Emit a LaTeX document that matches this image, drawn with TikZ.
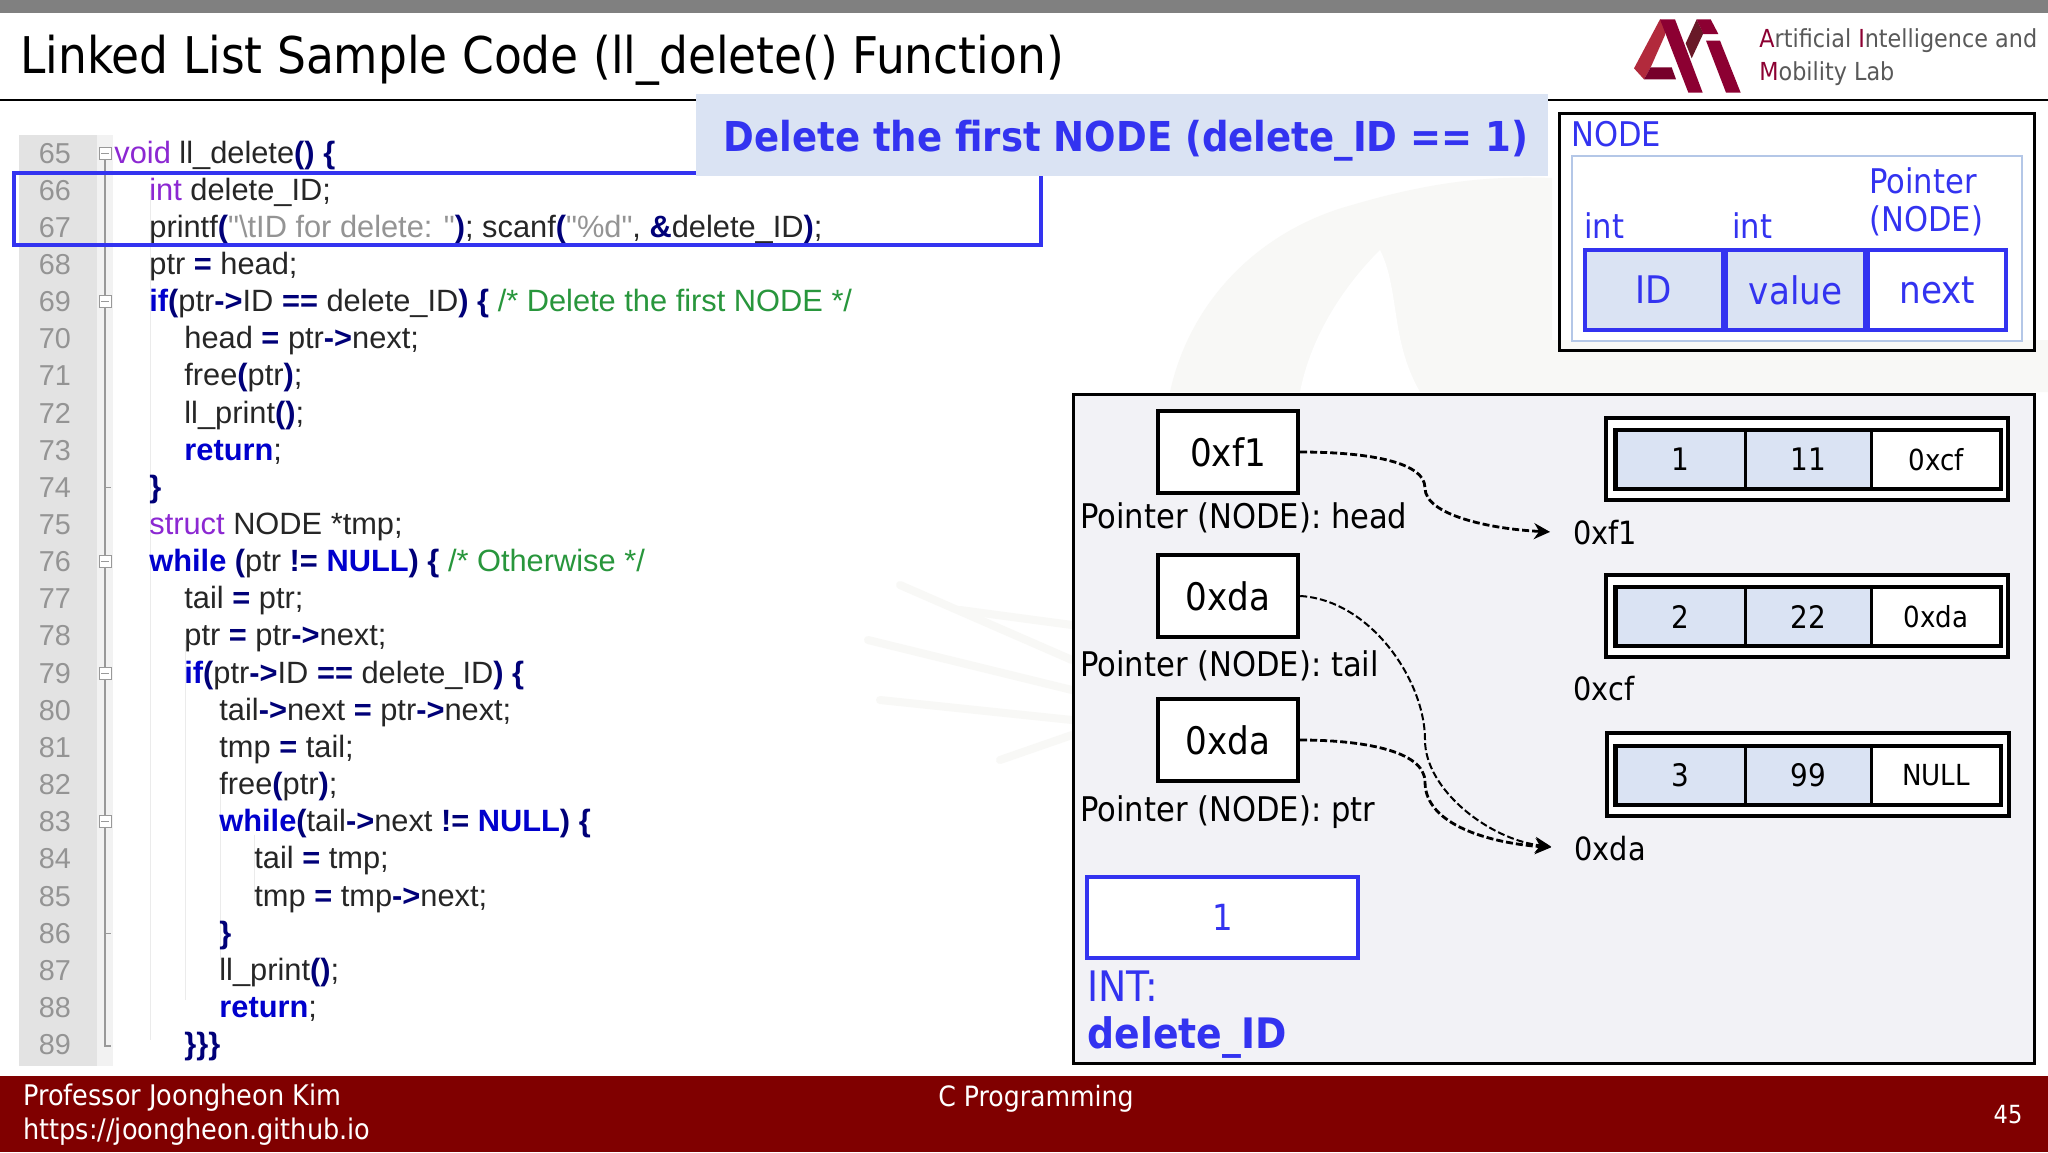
\documentclass[tikz,border=0pt]{standalone}
\usepackage{fontspec}
\setmainfont{DejaVu Sans Condensed}
\newfontfamily\codefont{Liberation Sans}
\usetikzlibrary{arrows.meta, positioning}

\definecolor{slideblue}{RGB}{51,51,240}
\definecolor{paleblue}{RGB}{218,227,243}
\definecolor{frameblue}{RGB}{180,199,231}
\definecolor{darkfoot}{RGB}{128,0,0}
\definecolor{panelgray}{RGB}{242,242,246}
\definecolor{kwblue}{RGB}{0,0,205}
\definecolor{navyop}{RGB}{0,0,120}
\definecolor{typepurple}{RGB}{140,40,210}
\definecolor{cmtgreen}{RGB}{40,150,60}
\definecolor{logored}{RGB}{140,0,50}
\definecolor{logolight}{RGB}{178,42,60}
\definecolor{logodark}{RGB}{105,25,40}
\definecolor{markgray}{RGB}{248,248,246}

\newcommand{\kwd}[1]{\textcolor{kwblue}{\bfseries #1}}
\newcommand{\typ}[1]{\textcolor{typepurple}{#1}}
\newcommand{\cmt}[1]{\textcolor{cmtgreen}{#1}}
\newcommand{\strg}[1]{\textcolor{black!42}{#1}}
\newcommand{\opr}[1]{\textcolor{navyop}{\bfseries #1}}

\tikzset{
  codeline/.style={anchor=base west, inner sep=0, font=\codefont\fontsize{15.4}{17}\selectfont, text=black!85},
  lineno/.style={anchor=base, inner sep=0, font=\codefont\fontsize{14.4}{16}\selectfont, text=black!42},
  foldbox/.style={draw=black!40, fill=white, line width=0.5pt, inner sep=0, minimum width=6pt, minimum height=6pt},
  plaintext/.style={anchor=west, inner sep=0, font=\fontsize{17}{20}\selectfont},
  bluetext/.style={plaintext, text=slideblue},
  ptrbox/.style={draw=black, fill=white, line width=2.2pt, minimum width=70pt, minimum height=41pt, inner sep=0, font=\fontsize{19}{24}\selectfont},
  cellblue/.style={fill=paleblue, inner sep=0, minimum height=29pt, font=\fontsize{15.5}{18}\selectfont},
  cellwhite/.style={fill=white, inner sep=0, minimum height=29pt, font=\fontsize{15.5}{18}\selectfont},
  headcell/.style={draw=slideblue, line width=1.8pt, inner sep=0, minimum width=69pt, minimum height=40pt, text=slideblue, font=\fontsize{19}{22}\selectfont},
  linkarrow/.style={-{Stealth[length=8pt,width=8pt]}, line width=1.4pt, dash pattern=on 3.5pt off 1.5pt, shorten >=11.5pt},
  footertext/.style={anchor=west, inner sep=0, text=white, font=\fontsize{14.2}{16}\selectfont},
}

\begin{document}
\begin{tikzpicture}[x=0.5pt,y=-0.5pt]
\useasboundingbox (0,0) rectangle (2048,1152);
\fill[white] (0,0) rectangle (2048,1152);

% faint watermark
\fill[markgray] (1170,392) .. controls (1190,300) and (1260,230) .. (1352,205) .. controls (1420,185) and (1480,175) .. (1552,178) -- (1552,340) -- (2048,340) -- (2048,392) -- cycle;
\fill[white] (1300,392) .. controls (1310,340) and (1340,290) .. (1380,250) .. controls (1400,290) and (1390,340) .. (1420,392) -- cycle;
\foreach \x/\y/\xx/\yy in {868/640/1072/690, 900/585/1072/660, 880/700/1072/720, 960/610/1072/625, 1000/760/1072/735}
  \draw[markgray, line width=4pt, line cap=round] (\x,\y) -- (\xx,\yy);

% top of slide
\fill[black!50] (0,0) rectangle (2048,13);
\draw[black, line width=1pt] (0,100) -- (2048,100);
\node[anchor=west, inner sep=0, font=\fontsize{25.3}{30}\selectfont] (title) at (20,60) {Linked List Sample Code (ll\_delete() Function)};

% logo
\begin{scope}[shift={(1620,10)},scale=1/3]
\fill[logolight] (120,28) -- (42,175) -- (72,208) -- (92,172) -- (135,75) -- (140,45) -- cycle;
\fill[logored!85!black] (72,208) -- (168,208) -- (155,172) -- (92,172) -- cycle;
\fill[logodark] (230,28) -- (197,100) -- (215,145) -- (250,70) -- cycle;
\fill[logored] (120,28) -- (165,28) -- (248,248) -- (205,248) -- cycle;
\fill[logored] (230,28) -- (272,28) -- (295,72) -- (250,72) -- cycle;
\fill[logored] (258,92) -- (300,92) -- (362,248) -- (318,248) -- cycle;
\end{scope}
\node[anchor=west, inner sep=0, text=black!65, font=\fontsize{12.4}{16}\selectfont] (lablineone) at (1759,41) {\textcolor{logored}{A}rtificial \textcolor{logored}{I}ntelligence and};
\node[anchor=west, inner sep=0, text=black!65, font=\fontsize{12.4}{16}\selectfont] (lablinetwo) at (1759,74) {\textcolor{logored}{M}obility Lab};

% code gutter
\fill[black!11] (19,135) rectangle (97,1066);
\fill[black!5] (97,135) rectangle (113,1066);
\draw[black!40, line width=0.6pt] (105,160) -- (105,1046) -- (111,1046);
\foreach \x/\ya/\yb in {150/190/1040, 185/640/1000, 220/780/960, 254/835/900}
  \draw[black!8, line width=0.5pt] (\x,\ya) -- (\x,\yb);
\foreach \n in {65,...,89} {
  \pgfmathsetmacro{\ybase}{163+37.15*(\n-65)}
  \node[lineno] (num\n) at (55,\ybase) {\n};
}
\foreach \n in {65,69,76,79,83} {
  \pgfmathsetmacro{\yfold}{153+37.15*(\n-65)}
  \node[foldbox] (fold\n) at (105,\yfold) {};
  \draw[black!40, line width=0.5pt] (101,\yfold) -- (109,\yfold);
}
\foreach \n in {74,86} {
  \pgfmathsetmacro{\yfold}{153+37.15*(\n-65)}
  \draw[black!40, line width=0.6pt] (105,\yfold) -- (111,\yfold);
}

% code
\foreach \n/\x/\txt in {
  65/114/{\typ{void} ll\_delete\opr{()} \opr{\{}},
  66/149/{\typ{int} delete\_ID;},
  67/149/{printf\opr{(}\strg{"\textbackslash tID for delete: "}\opr{)}; scanf\opr{(}\strg{"\%d"}, \opr{\&}delete\_ID\opr{)};},
  68/149/{ptr \opr{=} head;},
  69/149/{\kwd{if}\opr{(}ptr\opr{->}ID \opr{==} delete\_ID\opr{)} \opr{\{} \cmt{/* Delete the first NODE */}},
  70/184/{head \opr{=} ptr\opr{->}next;},
  71/184/{free\opr{(}ptr\opr{)};},
  72/184/{ll\_print\opr{()};},
  73/184/{\kwd{return};},
  74/149/{\opr{\}}},
  75/149/{\typ{struct} NODE *tmp;},
  76/149/{\kwd{while} \opr{(}ptr \opr{!=} \kwd{NULL}\opr{)} \opr{\{} \cmt{/* Otherwise */}},
  77/184/{tail \opr{=} ptr;},
  78/184/{ptr \opr{=} ptr\opr{->}next;},
  79/184/{\kwd{if}\opr{(}ptr\opr{->}ID \opr{==} delete\_ID\opr{)} \opr{\{}},
  80/219/{tail\opr{->}next \opr{=} ptr\opr{->}next;},
  81/219/{tmp \opr{=} tail;},
  82/219/{free\opr{(}ptr\opr{)};},
  83/219/{\kwd{while}\opr{(}tail\opr{->}next \opr{!=} \kwd{NULL}\opr{)} \opr{\{}},
  84/254/{tail \opr{=} tmp;},
  85/254/{tmp \opr{=} tmp\opr{->}next;},
  86/219/{\opr{\}}},
  87/219/{ll\_print\opr{()};},
  88/219/{\kwd{return};},
  89/184/{\opr{\}\}\}}}%
} {
  \pgfmathsetmacro{\ybase}{163+37.15*(\n-65)}
  \node[codeline] (code\n) at (\x,\ybase) {\txt};
}

% highlight and callout
\draw[slideblue, line width=2pt] (14,173) rectangle (1041,245);
\fill[paleblue] (696,94) rectangle (1548,176);
\node[inner sep=0, text=slideblue, font=\fontsize{20.6}{26}\selectfont\bfseries] (callout) at (1126,141) {Delete the first NODE (delete\_ID == 1)};

% NODE layout
\draw[black, line width=1.5pt] (1559,113) rectangle (2034,350);
\node[bluetext] (nodetitle) at (1571,134) {NODE};
\draw[frameblue, line width=1.4pt] (1572,156) rectangle (2022,341);
\node[headcell, fill=paleblue] (headid) at (1654,290) {ID};
\node[headcell, fill=paleblue, right=0pt of headid] (headvalue) {value};
\node[headcell, fill=white, right=0pt of headvalue] (headnext) {next};
\node[bluetext] (intid) at (1584,226) {int};
\node[bluetext] (intvalue) at (1732,226) {int};
\node[bluetext] (ptrone) at (1869,181) {Pointer};
\node[bluetext] (ptrtwo) at (1869,221) {(NODE)};

% list panel
\draw[black, line width=1.5pt, fill=panelgray] (1073,394) rectangle (2034,1063);

\node[ptrbox] (boxhead) at (1228,452) {0xf1};
\node[ptrbox] (boxtail) at (1228,596) {0xda};
\node[ptrbox] (boxptr) at (1228,740) {0xda};
\node[plaintext] (labhead) at (1080,518) {Pointer (NODE): head};
\node[plaintext] (labtail) at (1080,666) {Pointer (NODE): tail};
\node[plaintext] (labptr) at (1080,812) {Pointer (NODE): ptr};

\foreach \nm/\xa/\ya/\xb/\yb/\yc/\a/\b/\c in {
  first/1606/418/2008/500/459.5/1/11/0xcf,
  second/1606/575/2008/657/616.5/2/22/0xda,
  third/1607/733/2009/816/775.5/3/99/NULL} {
  \draw[black, line width=2.2pt, fill=white] (\xa,\ya) rectangle (\xb,\yb);
  \node[cellblue, minimum width=64.5pt] (\nm id) at (1680.5,\yc) {\a};
  \node[cellblue, minimum width=63pt] (\nm value) at (1808,\yc) {\b};
  \node[cellwhite, minimum width=64.5pt, font=\fontsize{14.5}{18}\selectfont] (\nm next) at (1936,\yc) {\c};
  \draw[black, line width=2.2pt] (\nm id.north west) rectangle (\nm next.south east);
  \draw[black, line width=1.5pt] (\nm id.north east) -- (\nm id.south east);
  \draw[black, line width=1.5pt] (\nm value.north east) -- (\nm value.south east);
}

\node[plaintext, font=\fontsize{16}{20}\selectfont] (addrone) at (1573,533) {0xf1};
\node[plaintext, font=\fontsize{16}{20}\selectfont] (addrtwo) at (1573,689) {0xcf};
\node[plaintext, font=\fontsize{16}{20}\selectfont] (addrthree) at (1574,849) {0xda};

\coordinate (bendhead) at (1425,488);
\coordinate (bendptr) at (1425,782);
\draw[linkarrow] (boxhead.east) .. controls (1360,452) and (1425,460) .. (bendhead) .. controls (1425,515) and (1490,529) .. (addrone.west);
\draw[linkarrow, line width=1pt] (boxtail.east) .. controls (1370,600) and (1425,680) .. (1425,740) .. controls (1425,790) and (1490,840) .. (addrthree.west);
\draw[linkarrow] (boxptr.east) .. controls (1360,740) and (1425,750) .. (bendptr) .. controls (1425,825) and (1490,843) .. (addrthree.west);

% delete_ID box
\node[draw=slideblue, fill=white, line width=2pt, minimum width=135.5pt, minimum height=40.5pt, inner sep=0, text=slideblue, font=\fontsize{18}{20}\selectfont] (intbox) at (1222.5,917) {1};
\node[bluetext, font=\fontsize{21}{24}\selectfont] (inttype) at (1087,986) {INT:};
\node[bluetext, font=\fontsize{21}{24}\selectfont\bfseries] (intname) at (1087,1037) {delete\_ID};

% footer
\fill[darkfoot] (0,1075.5) rectangle (2048,1152);
\node[footertext] (footname) at (23,1098) {Professor Joongheon Kim};
\node[footertext] (footurl) at (23,1132) {https://joongheon.github.io};
\node[footertext, anchor=center, font=\fontsize{14}{16}\selectfont] (footcourse) at (1036,1099) {C Programming};
\node[footertext, anchor=center, font=\fontsize{12.5}{15}\selectfont] (footpage) at (2008,1115) {45};
\end{tikzpicture}
\end{document}
